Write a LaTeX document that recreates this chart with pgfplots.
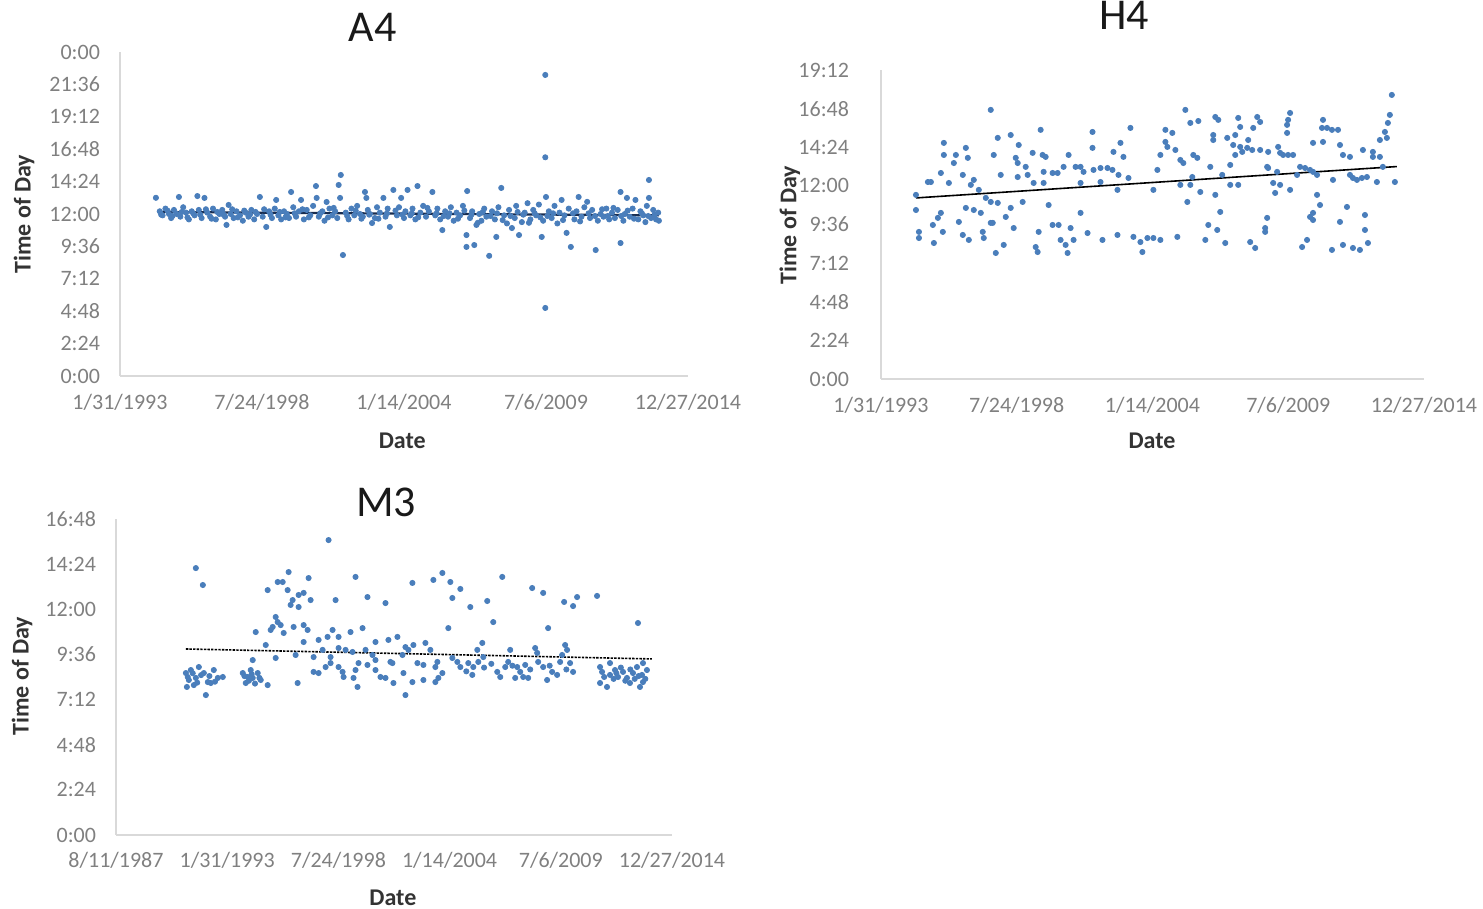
\documentclass[border=0pt]{standalone}
\usepackage{pgfplots}
\pgfplotsset{compat=1.18}
\usepackage{fontspec}
\setmainfont{Carlito}
\definecolor{dot}{RGB}{74,126,187}
\definecolor{axgray}{RGB}{217,217,217}
\definecolor{tickgray}{RGB}{128,128,128}
\definecolor{navy}{RGB}{25,45,80}
\pgfplotsset{
  exstyle/.style={
    scale only axis,
    axis x line*=bottom, axis y line*=left,
    axis line style={draw=axgray, line width=0.8pt},
    major tick length=0pt,
    scaled x ticks=false, scaled y ticks=false,
    tick label style={font=\fontsize{11}{13}\selectfont, text=tickgray},
    xticklabel style={anchor=base, yshift=-17pt},
    yticklabel style={anchor=east, xshift=-6.5pt},
    label style={font=\fontsize{12}{14}\selectfont\bfseries, text=black!80},
    title style={font=\fontsize{22}{24}\selectfont, text=black!90, anchor=base},
    clip=false,
  },
  pts/.style={only marks, mark=*, mark size=1.3pt, mark options={draw=dot, fill=dot}},
}
\begin{document}
\begin{tikzpicture}
\useasboundingbox (0,0) rectangle (741.5pt,454.5pt);
% ---------------- A4 ----------------
\begin{axis}[exstyle,
  at={(60pt,266.5pt)}, anchor=south west, width=284pt, height=162pt,
  xmin=34000, xmax=42000, ymin=0, ymax=24,
  xtick={34000,36000,38000,40000,42000},
  xticklabels={1/31/1993,7/24/1998,1/14/2004,7/6/2009,12/27/2014},
  ytick={0,2.4,4.8,7.2,9.6,12,14.4,16.8,19.2,21.6,24},
  yticklabels={0:00,2:24,4:48,7:12,9:36,12:00,14:24,16:48,19:12,21:36,0:00},
  title={A4}, title style={at={(axis description cs:0.445,1)}, yshift=-1pt},
  xlabel={Date}, xlabel style={at={(axis description cs:0.497,-0.2)}, anchor=center},
  ylabel={Time of Day}, ylabel style={at={(axis description cs:-0.169,0.5)}, anchor=center, rotate=0},
]
\addplot[pts] coordinates {
(34506,13.2) (34830,13.26) (35090,13.33) (35190,13.19) (35530,12.67) (35500,11.19) (35970,13.26) (36060,11.04)
(36200,13.04) (36410,13.63) (36550,13.04) (36760,14.07) (36770,13.19) (36910,12.89) (37100,13.19) (37110,14.89)
(37080,14.15) (37140,8.96) (37450,13.63) (37470,13.19) (37550,11.33) (37710,13.19) (37800,11.04) (37850,13.78)
(37960,13.19) (38050,13.78) (38190,14.07) (38400,13.63) (38540,10.81) (38890,13.7) (38880,10.44) (38880,9.56)
(38990,9.7) (39020,11.19) (39200,8.9) (39300,10.3) (39370,13.93) (39520,10.96) (39620,10.44) (39940,10.3)
(40000,13.26) (39990,22.3) (39990,16.2) (39990,5.04) (40220,13.04) (40290,10.6) (40350,9.56) (40460,13.26)
(40700,9.33) (41050,13.63) (41050,9.85) (41140,13.19) (41260,13.04) (41450,14.52) (41450,13.19)
(34560,12.2) (34600,11.9) (34640,12.4) (34690,12.0) (34720,11.7) (34760,12.3) (34800,12.0) (34850,11.8)
(34890,12.5) (34930,12.1) (34970,11.6) (35010,12.2) (35050,11.9) (35110,12.3) (35150,11.7) (35230,12.1)
(35270,11.8) (35310,12.4) (35350,11.6) (35400,12.0) (35440,12.3) (35480,11.8) (35560,12.0) (35600,11.7)
(35640,12.2) (35690,11.9) (35730,11.5) (35770,12.1) (35810,11.8) (35850,12.3) (35890,11.6) (35930,12.0)
(36010,11.8) (36100,12.2) (36140,11.7) (36180,12.4) (36230,11.9) (36270,11.6) (36310,12.2) (36350,12.0)
(36380,11.7) (36440,12.5) (36480,11.8) (36520,12.2) (36590,11.6) (36630,12.3) (36680,11.9) (36720,12.6)
(36800,11.8) (36850,12.2) (36880,11.5) (36950,12.4) (36990,11.9) (37030,12.2) (37060,11.7) (37180,12.1)
(37220,11.6) (37260,12.4) (37300,11.9) (37340,12.6) (37380,12.0) (37420,11.8) (37490,12.3) (37520,12.0)
(37590,11.7) (37620,12.5) (37660,12.1) (37740,11.8) (37770,12.4) (37900,11.9) (37930,12.5) (38000,11.7)
(38020,12.2) (38090,11.9) (38120,12.4) (38160,11.6) (38230,12.1) (38270,12.6) (38310,11.8) (38350,12.2)
(38440,11.9) (38470,12.4) (38510,11.6) (38580,12.2) (38620,11.8) (38660,12.5) (38700,11.5) (38740,12.1)
(38790,11.9) (38830,12.6) (38930,11.7) (38960,12.2) (39060,12.0) (39090,11.5) (39130,12.4) (39160,11.8)
(39240,12.2) (39280,11.6) (39330,12.5) (39410,11.9) (39450,11.3) (39480,12.3) (39560,11.7) (39580,12.6)
(39660,11.4) (39700,12.1) (39740,12.8) (39780,11.6) (39820,12.3) (39860,11.9) (39900,12.7) (39960,11.5)
(40040,12.2) (40080,11.7) (40120,12.6) (40160,11.3) (40190,12.1) (40260,11.9) (40320,12.4) (40400,11.6)
(40430,12.2) (40500,11.8) (40540,12.5) (40580,12.9) (40620,11.7) (40650,12.3) (40730,11.5) (40770,12.0)
(40810,11.8) (40850,12.4) (40890,11.6) (40930,12.1) (40970,11.7) (41010,12.3) (41090,11.5) (41110,12.0)
(41180,11.8) (41220,12.4) (41300,11.6) (41330,12.2) (41370,11.9) (41400,11.4) (41420,12.6) (41480,11.7)
(41510,12.3) (41550,11.6) (41580,12.1) (41590,11.5)
(34580,11.95) (34670,12.25) (34740,11.85) (34870,12.15) (34950,11.75) (35030,12.05) (35130,11.95) (35210,12.35)
(35290,11.65) (35370,12.15) (35460,11.95) (35580,12.35) (35660,11.75) (35750,12.25) (35830,11.95) (35910,12.15)
(36030,12.35) (36120,11.95) (36250,12.15) (36330,11.75) (36460,12.05) (36570,12.35) (36660,11.75) (36820,12.05)
(36930,11.75) (37010,12.45) (37200,11.85) (37320,12.25) (37400,11.65) (37510,11.95) (37640,11.65) (37760,12.05)
(37880,12.25) (37980,11.95) (38110,12.05) (38200,11.75) (38330,12.45) (38460,12.05) (38560,11.85) (38640,12.05)
(38760,11.65) (38850,12.25) (38950,11.95) (39040,11.35) (39110,12.15) (39220,11.85) (39310,12.05) (39390,11.55)
(39500,11.85) (39600,12.15) (39680,11.95) (39760,11.35) (39840,12.05) (39920,11.75) (40020,11.85) (40100,12.05)
(40240,11.55) (40380,12.05) (40480,11.45) (40600,12.05) (40690,11.85) (40790,12.35) (40870,11.85) (40950,12.45)
(41060,11.85) (41150,12.25) (41240,11.65) (41350,12.05) (41440,11.85) (41530,11.95)
};
\addplot[navy, line width=1.1pt] coordinates {(34540,12.15) (41590,11.9)};
\end{axis}
% ---------------- H4 ----------------
\begin{axis}[exstyle,
  at={(440.5pt,265pt)}, anchor=south west, width=271.5pt, height=154.5pt,
  xmin=34000, xmax=42000, ymin=0, ymax=19.2,
  xtick={34000,36000,38000,40000,42000},
  xticklabels={1/31/1993,7/24/1998,1/14/2004,7/6/2009,12/27/2014},
  ytick={0,2.4,4.8,7.2,9.6,12,14.4,16.8,19.2},
  yticklabels={0:00,2:24,4:48,7:12,9:36,12:00,14:24,16:48,19:12},
  yticklabel style={xshift=-6pt},
  title={H4}, title style={at={(axis description cs:0.448,1)}, yshift=14pt},
  xlabel={Date}, xlabel style={at={(axis description cs:0.499,-0.2)}, anchor=center},
  ylabel={Time of Day}, ylabel style={at={(axis description cs:-0.168,0.498)}, anchor=center},
]
\addplot[pts] coordinates {
(35617,16.72) (34926,14.67) (34926,13.92) (35103,13.92) (35250,14.36) (35279,13.74) (35073,13.42) (34882,12.80)
(34691,12.24) (34735,12.24) (35000,12.18) (35205,12.68) (35323,12.06) (35367,12.37) (35441,11.75) (34515,11.44)
(34515,10.50) (34882,10.32) (34838,10.01) (34764,9.57) (34559,9.14) (34559,8.76) (34779,8.45) (34911,9.14)
(35147,9.76) (35250,10.63) (35367,10.50) (35470,10.32) (35205,8.95) (35294,8.64) (35499,9.14) (35514,8.76)
(35617,9.70) (35544,11.25) (35617,11.00) (35720,10.94) (35661,13.92) (35720,14.98) (35911,15.16) (36029,14.54)
(35764,12.68) (36014,12.55) (35985,13.74) (36014,13.42) (36132,13.18) (36161,12.68) (36234,14.05) (36352,15.48)
(36381,13.92) (36426,13.80) (36396,12.87) (36528,12.80) (36602,12.80) (36690,13.18) (36764,13.92) (36867,13.18)
(36940,13.18) (36984,12.87) (37131,12.99) (37234,13.11) (37337,13.11) (37410,12.99) (37499,12.68) (37646,12.49)
(37116,15.35) (37116,14.36) (37425,14.11) (37528,14.67) (37572,13.80) (37675,15.60) (36249,12.18) (36396,12.18)
(36940,12.18) (37234,12.24) (37484,11.75) (38013,11.75) (36470,10.81) (36087,11.00) (35911,10.63) (35838,10.07)
(35646,9.70) (35955,9.38) (36323,9.14) (36528,9.57) (36617,9.57) (36793,9.38) (36940,10.32) (36646,8.64)
(36720,8.33) (36837,8.64) (36749,7.83) (36279,8.20) (36308,7.89) (35808,8.33) (35691,7.83) (37043,9.07)
(37263,8.64) (37484,8.95) (37719,8.83) (37822,8.51) (37851,7.89) (37925,8.76) (38013,8.76) (38116,8.64)
(38072,12.99)
(38484,16.72) (38557,15.91) (38675,16.03) (38190,15.48) (38292,15.29) (38190,14.73) (38219,14.42) (38337,14.23)
(38116,13.92) (38410,13.61) (38454,13.42) (38601,13.92) (38660,13.74) (38851,13.18) (38410,12.06) (38586,12.55)
(38557,12.06) (38704,11.62) (38513,11.00) (38925,11.44) (38998,10.38) (38925,16.28) (38969,16.10) (38895,15.16)
(38895,14.85) (39101,14.98) (39263,16.22) (39292,15.66) (39219,15.16) (39189,14.54) (39292,14.42) (39410,14.85)
(39395,14.36) (39322,14.11) (39219,13.92) (39469,14.23) (39484,15.60) (39543,16.28) (39586,15.97) (39586,14.23)
(39704,14.11) (39851,14.42) (39880,14.05) (39924,13.92) (39998,13.92) (40071,13.92) (40027,16.53) (39998,16.10)
(39983,15.79) (39983,15.29) (39145,13.30) (39027,12.68) (39689,13.18) (39704,13.11) (39836,12.87) (40130,12.68)
(40174,13.18) (40248,13.11) (40321,12.99) (40365,12.87) (40424,12.68) (39145,12.06) (39263,12.06) (39778,12.18)
(39880,12.06) (39807,11.56) (40027,11.75) (40424,11.44) (40468,10.81) (40365,10.32) (40365,9.88) (39689,10.01)
(39660,9.38) (39660,9.14) (40512,16.10) (40497,15.60) (40571,15.60) (40644,15.48) (40733,15.48) (40365,14.67)
(40512,14.73) (40762,14.54) (40806,13.92) (40909,13.80) (40659,12.37) (40909,12.68) (40953,12.49) (41012,12.37)
(41085,12.49) (41159,12.55) (41306,12.24) (41100,14.23) (41247,14.11) (41247,13.80) (41350,13.80) (41350,14.85)
(41424,15.35) (41453,14.98) (41468,15.91) (41497,16.41) (41526,17.65) (41571,12.24) (41394,13.18) (40865,10.69)
(40762,9.76) (41130,10.19) (41130,9.26) (41174,8.45) (41056,8.02) (40953,8.14) (40806,8.33) (40644,8.02)
(40277,8.64) (40204,8.20) (40321,10.07) (39439,8.51) (39513,8.14) (39072,8.45) (38778,8.64) (38822,9.57)
(38954,9.26) (38366,8.83)
};
\addplot[black, line width=0.8pt] coordinates {(34515,11.25) (41600,13.2)};
\end{axis}
% ---------------- M3 ----------------
\begin{axis}[exstyle,
  at={(58pt,37pt)}, anchor=south west, width=278pt, height=158pt,
  xmin=32000, xmax=42000, ymin=0, ymax=16.8,
  xtick={32000,34000,36000,38000,40000,42000},
  xticklabels={8/11/1987,1/31/1993,7/24/1998,1/14/2004,7/6/2009,12/27/2014},
  xticklabel style={yshift=0.5pt},
  ytick={0,2.4,4.8,7.2,9.6,12,14.4,16.8},
  yticklabels={0:00,2:24,4:48,7:12,9:36,12:00,14:24,16:48},
  title={M3}, title style={at={(axis description cs:0.486,1)}, yshift=-5pt},
  xlabel={Date}, xlabel style={at={(axis description cs:0.498,-0.2)}, anchor=center},
  ylabel={Time of Day}, ylabel style={at={(axis description cs:-0.169,0.503)}, anchor=center},
]
\addplot[pts] coordinates {
(33436,14.19) (33562,13.29) (35823,15.68) (35105,13.98) (34908,13.45) (34998,13.45) (35464,13.66) (36308,13.72)
(37331,13.40) (34728,13.02) (35087,13.02) (35375,12.87) (35285,12.76) (35177,12.49) (35141,12.23) (35285,12.12)
(35500,12.49) (35949,12.49) (36523,12.65) (36847,12.33) (34872,11.59) (34908,11.32) (34818,11.06) (34782,10.90)
(34962,11.16) (35016,10.74) (35195,11.06) (35375,11.16) (35446,10.90) (34513,10.79) (34693,10.10) (35375,10.26)
(35644,10.37) (35805,10.53) (35895,10.90) (36003,10.53) (36218,10.79) (36434,11.00) (36667,10.26) (36900,10.37)
(37062,10.53) (37206,9.99) (37349,10.10) (34459,9.30) (34872,9.41) (35231,9.57) (35554,9.46) (35716,9.84)
(35859,9.46) (36003,9.94) (36129,9.84) (36254,9.73) (36488,9.84) (36613,9.57) (36667,9.30) (36936,9.20)
(37152,9.57) (37259,9.84) (35554,8.67) (35644,8.61) (35770,8.93) (35859,9.14) (36003,8.93) (36075,8.67)
(36308,8.77) (36362,9.14) (36523,9.04) (36667,8.77) (36757,8.40) (36847,8.35) (36990,8.08) (36972,9.14)
(37170,8.61) (37331,8.13) (36272,8.35) (36344,7.87) (36093,8.40) (37206,7.44) (35267,8.08) (33257,8.61)
(33346,8.77) (33310,8.24) (33400,7.97) (33490,8.93) (33580,8.61) (33651,8.13) (33616,7.44) (33759,8.77)
(33831,8.35) (33921,8.40) (33705,8.08) (34280,8.61) (34369,8.40) (34459,8.35) (34549,8.61) (34603,8.24)
(34728,7.97) (34334,8.08) (34423,8.77) (33275,7.87) (33436,8.35) (33530,8.50) (34390,8.20) (34500,8.05)
(33290,8.40) (33380,8.60) (33460,8.10) (33680,8.45) (33780,8.15) (34310,8.45) (34440,8.55) (34580,8.35)
(37708,13.56) (37870,13.93) (38013,13.45) (38193,13.08) (38049,12.60) (38372,12.12) (38677,12.44) (38947,13.72)
(38785,11.32) (37977,11.00) (39485,13.13) (39683,12.87) (40060,12.39) (40221,12.17) (40293,12.65) (40652,12.71)
(39772,11.00) (41388,11.27) (37565,10.21) (37654,9.84) (38588,10.21) (38498,9.84) (39090,9.84) (39539,9.94)
(39575,9.68) (40078,10.10) (40113,9.84) (40024,9.57) (37421,9.14) (37529,9.04) (37744,8.93) (37780,9.20)
(38049,9.41) (38139,9.20) (38193,8.93) (38336,9.14) (38426,8.93) (38516,9.20) (38606,9.46) (37870,8.61)
(37798,8.35) (37744,8.13) (37529,8.24) (38408,8.51) (38857,8.67) (38911,8.40) (39001,8.93) (39054,9.20)
(39216,8.93) (39270,8.67) (39360,9.04) (39180,8.35) (39324,8.40) (39413,8.35) (39593,9.20) (39683,8.93)
(39754,8.24) (39844,8.67) (39934,8.51) (39988,9.20) (40167,9.14) (40221,8.67) (40706,8.93) (40742,8.67)
(40706,8.08) (40831,7.87) (40885,8.51) (40975,8.77) (41029,8.40) (41119,8.67) (41190,8.35) (41244,8.08)
(41298,8.61) (41370,8.93) (41460,8.51) (41478,9.14) (41549,8.77) (41478,8.13) (41424,7.87) (40885,9.14)
(38300,8.70) (38620,8.90) (38750,9.10) (39130,9.00) (39450,8.80) (39800,9.00) (40100,8.80) (40950,8.30)
(41080,8.90) (41330,8.30) (41250,8.80) (40780,8.40) (41000,8.60) (41160,8.20) (41400,8.45) (41520,8.30)
};
\addplot[black, line width=0.8pt, dash pattern=on 1.2pt off 0.6pt] coordinates {(33257,9.89) (41639,9.36)};
\end{axis}
\end{tikzpicture}
\end{document}
